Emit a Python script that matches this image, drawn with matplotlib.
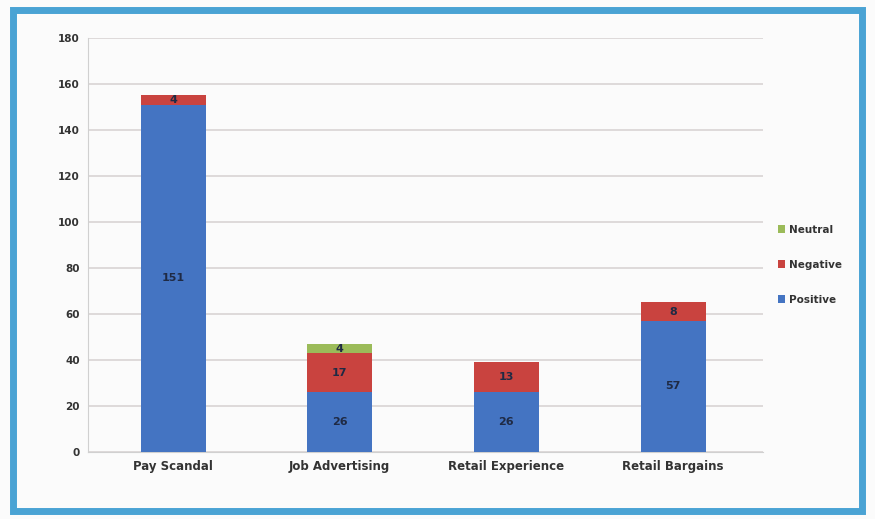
import matplotlib
matplotlib.use("Agg")
import matplotlib.pyplot as plt
from matplotlib.patches import Rectangle
import numpy as np

categories = ["Pay Scandal", "Job Advertising", "Retail Experience", "Retail Bargains"]
series_names = ["Positive", "Negative", "Neutral"]
blue_vals = [151, 26, 26, 57]
red_vals = [4, 17, 13, 8]
green_vals = [0, 4, 0, 0]
yticks = [0, 20, 40, 60, 80, 100, 120, 140, 160, 180]

colors = ["#4474c2", "#c9433f", "#9bbb59"]

fig = plt.figure(figsize=(8.75, 5.19), dpi=100)
fig.patch.set_facecolor("#fbfbfb")
ax = fig.add_axes([0.1006, 0.129, 0.7714, 0.798])
ax.set_facecolor("#fbfbfb")

x = np.arange(len(categories))
w = 0.39
bottom = np.zeros(len(categories))
for name, vals, c in zip(series_names, [blue_vals, red_vals, green_vals], colors):
    vals = np.array(vals, dtype=float)
    ax.bar(x, vals, w, bottom=bottom, color=c, label=name, zorder=3)
    for xi, b, v in zip(x, bottom, vals):
        if v >= 4:
            ax.text(xi, b + v / 2, f"{int(v)}", ha="center", va="center",
                    fontsize=8, color="#1f2a44", fontweight="bold", zorder=4)
    bottom += vals

ax.set_xlim(-0.51, 3.54)
ax.set_ylim(0, 180)
ax.set_yticks(yticks)
ax.set_yticklabels([str(t) for t in yticks], fontsize=7.5, color="#333333",
                   fontweight="bold")
ax.set_xticks(x)
ax.set_xticklabels(categories, fontsize=8.5, color="#333333", fontweight="bold")
ax.yaxis.grid(True, color="#d9d4d4", linewidth=1.2, zorder=0)
ax.tick_params(axis="both", length=0, pad=6)
for s in ["top", "right"]:
    ax.spines[s].set_visible(False)
ax.spines["left"].set_color("#d0d0d0")
ax.spines["bottom"].set_color("#d0d0d0")

handles, labels = ax.get_legend_handles_labels()
leg = fig.legend(handles[::-1], labels[::-1], loc="center left",
                 bbox_to_anchor=(0.878, 0.49), frameon=False, fontsize=7.5,
                 handlelength=0.7, handleheight=0.7, labelspacing=2.4,
                 handletextpad=0.4)
for t in leg.get_texts():
    t.set_color("#333333")
    t.set_fontweight("bold")

fig.patches.append(Rectangle((0.015, 0.015), 0.97, 0.965, transform=fig.transFigure,
                             fill=False, edgecolor="#4aa3d4", linewidth=5))

fig.savefig("out.png", dpi=100, facecolor=fig.get_facecolor())
